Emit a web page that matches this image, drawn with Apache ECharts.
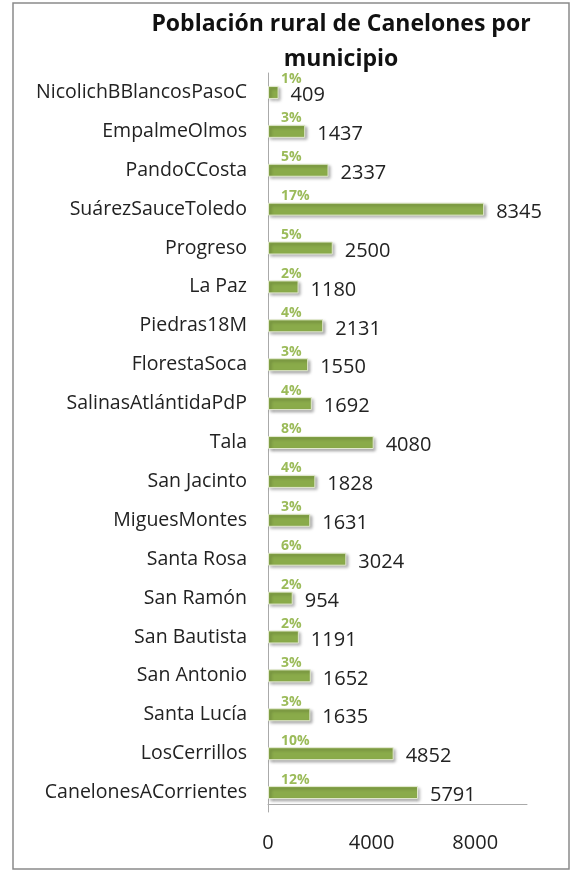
<!DOCTYPE html>
<html lang="es">
<head>
    <meta charset="UTF-8">
    <title>Población rural de Canelones por municipio</title>
    <script src="https://cdn.jsdelivr.net/npm/echarts@6/dist/echarts.min.js"></script>
</head>
<body style="margin:0;background:#fff;">
    <div id="chart" style="width:571px;height:872px;"></div>
    <script>
        // municipios, de arriba hacia abajo
        var municipios = [
            'NicolichBBlancosPasoC', 'EmpalmeOlmos', 'PandoCCosta', 'SuárezSauceToledo',
            'Progreso', 'La Paz', 'Piedras18M', 'FlorestaSoca', 'SalinasAtlántidaPdP',
            'Tala', 'San Jacinto', 'MiguesMontes', 'Santa Rosa', 'San Ramón',
            'San Bautista', 'San Antonio', 'Santa Lucía', 'LosCerrillos', 'CanelonesACorrientes'
        ];
        var poblacion = [409, 1437, 2337, 8345, 2500, 1180, 2131, 1550, 1692, 4080,
            1828, 1631, 3024, 954, 1191, 1652, 1635, 4852, 5791];
        var porcentaje = ['1%', '3%', '5%', '17%', '5%', '2%', '4%', '3%', '4%', '8%',
            '4%', '3%', '6%', '2%', '2%', '3%', '3%', '10%', '12%'];

        var chart = echarts.init(document.getElementById('chart'));

        var option = {
            backgroundColor: '#fff',
            animation: false,
            title: {
                text: 'Población rural de Canelones por\nmunicipio',
                left: 336,
                top: 2,
                textAlign: 'center',
                textStyle: {
                    fontFamily: 'Open Sans',
                    fontWeight: 'bold',
                    fontSize: 23,
                    lineHeight: 35,
                    color: '#111'
                }
            },
            graphic: [{
                type: 'rect',
                shape: { x: 13, y: 3, width: 556, height: 866 },
                style: { fill: 'none', stroke: '#8a8a8a', lineWidth: 1.5 },
                silent: true
            }],
            grid: { left: 268, top: 73, width: 259, height: 739 },
            xAxis: {
                type: 'value',
                min: 0,
                max: 10000,
                interval: 4000,
                offset: -8,
                splitLine: { show: false },
                axisLine: { show: true, lineStyle: { color: '#aaa' } },
                axisTick: { show: false },
                axisLabel: {
                    showMaxLabel: false,
                    margin: 29,
                    fontFamily: 'Open Sans',
                    fontSize: 20,
                    color: '#222',
                    formatter: function (v) { return String(v); }
                }
            },
            yAxis: {
                type: 'category',
                inverse: true,
                data: municipios,
                axisLine: { show: true, lineStyle: { color: '#aaa' } },
                axisTick: { show: false },
                axisLabel: {
                    margin: 21,
                    padding: [0, 0, 7, 0],
                    fontFamily: 'Open Sans',
                    fontSize: 19.5,
                    color: '#222'
                }
            },
            series: [{
                type: 'bar',
                data: poblacion,
                barWidth: 13,
                barGap: '-100%',
                itemStyle: {
                    color: '#8aab4a',
                    borderColor: '#e3ead0',
                    borderWidth: 1,
                    shadowColor: 'rgba(0,0,0,0.35)',
                    shadowBlur: 3,
                    shadowOffsetX: 2,
                    shadowOffsetY: 2
                },
                label: {
                    show: true,
                    position: 'right',
                    distance: 12,
                    offset: [0, 3],
                    fontFamily: 'Open Sans',
                    fontSize: 20,
                    color: '#222'
                }
            }, {
                type: 'bar',
                data: poblacion,
                barWidth: 13,
                barGap: '-100%',
                silent: true,
                itemStyle: { color: 'transparent' },
                label: {
                    show: true,
                    position: 'insideLeft',
                    distance: 0,
                    offset: [13, -13],
                    fontFamily: 'Open Sans',
                    fontWeight: 'bold',
                    fontSize: 14,
                    color: '#9bbb59',
                    formatter: function (p) {
                        return porcentaje[p.dataIndex];
                    }
                }
            }]
        };

        chart.setOption(option);
    </script>
</body>
</html>
